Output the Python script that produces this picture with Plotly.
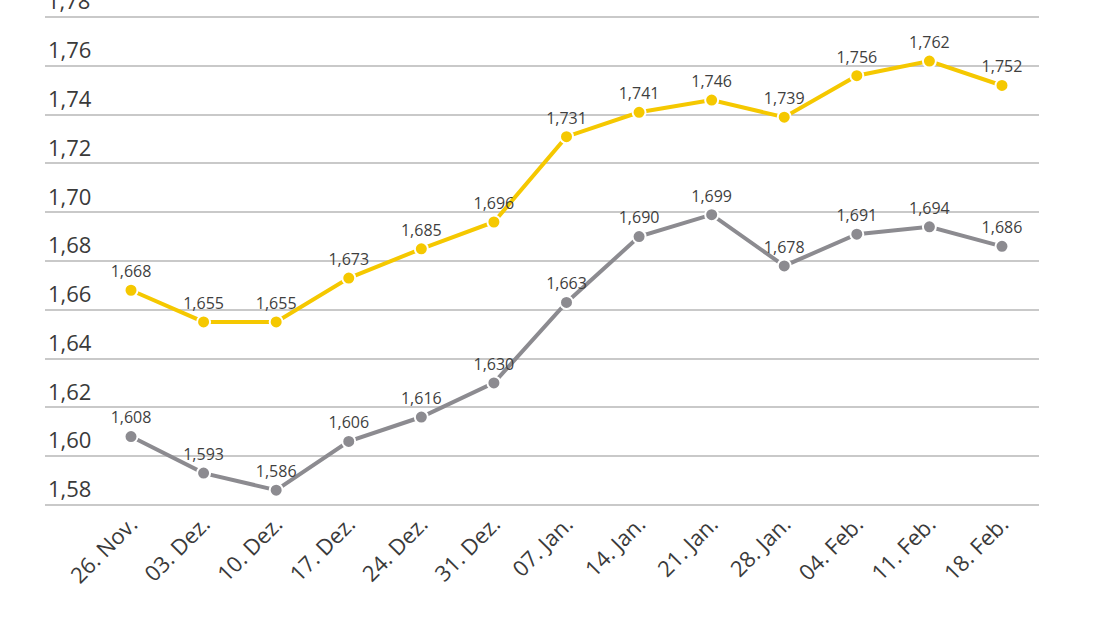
import plotly.graph_objects as go

dates = ["26. Nov.", "03. Dez.", "10. Dez.", "17. Dez.", "24. Dez.", "31. Dez.",
         "07. Jan.", "14. Jan.", "21. Jan.", "28. Jan.", "04. Feb.", "11. Feb.", "18. Feb."]
gray_values = [1.608, 1.593, 1.586, 1.606, 1.616, 1.630, 1.663, 1.690, 1.699, 1.678, 1.691, 1.694, 1.686]
yellow_values = [1.668, 1.655, 1.655, 1.673, 1.685, 1.696, 1.731, 1.741, 1.746, 1.739, 1.756, 1.762, 1.752]
y_ticks = [1.58, 1.60, 1.62, 1.64, 1.66, 1.68, 1.70, 1.72, 1.74, 1.76, 1.78]

idx = list(range(len(dates)))

fig = go.Figure()
for vals, col in [(gray_values, "#8c8b90"), (yellow_values, "#f5c800")]:
    fig.add_trace(go.Scatter(
        x=idx, y=vals, mode="lines+markers+text",
        line=dict(color=col, width=4),
        marker=dict(color=col, size=13, line=dict(color="white", width=2)),
        texttemplate="%{y:.3f}", textposition="top center",
        textfont=dict(family="Open Sans", size=16, color="#3f3f3f"),
        showlegend=False, cliponaxis=False,
    ))

fig.update_layout(
    width=1100, height=618,
    margin=dict(l=45, r=61, t=16, b=112),
    paper_bgcolor="white", plot_bgcolor="white",
    separators=",.",
    font=dict(family="Open Sans", color="#444444"),
)
fig.update_xaxes(
    tickmode="array", tickvals=idx, ticktext=dates, tickangle=-45,
    range=[-1.185, 12.51], showgrid=False, zeroline=False, showline=False,
    tickfont=dict(size=22, color="#3a3a3a"), ticks="", ticklen=0,
)
fig.update_yaxes(
    range=[1.5795, 1.7805], tickmode="array", tickvals=y_ticks, tickformat=".2f",
    ticklabelposition="inside top", showgrid=True, gridcolor="#c9c9c9", gridwidth=1.5,
    zeroline=False, showline=False, tickfont=dict(size=22, color="#3a3a3a"),
)

# top tick label (Plotly hides inside labels at the range edge)
top = y_ticks[-1]
fig.add_annotation(
    x=0, xref="paper", y=top, yref="y", text=f"{top:.2f}".replace(".", ","),
    showarrow=False, xanchor="left", yanchor="bottom", xshift=0, yshift=0,
    font=dict(family="Open Sans", size=22, color="#3a3a3a"),
)

fig.write_html("out.html")
